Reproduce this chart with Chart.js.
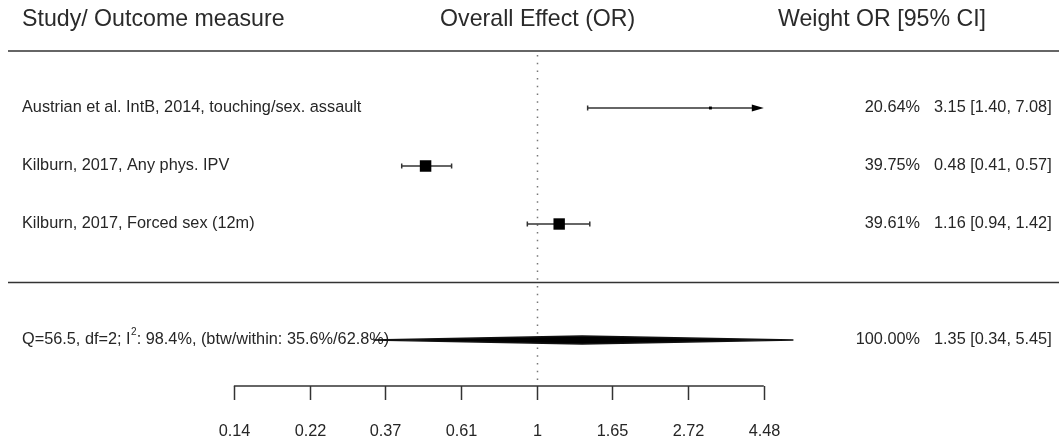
<!DOCTYPE html>
<html>
<head>
<meta charset="utf-8">
<script src="https://cdn.jsdelivr.net/npm/chart.js@4.4.0/dist/chart.umd.min.js"></script>
<style>
  html, body { margin: 0; padding: 0; background: #fff; }
  #wrap { width: 1059px; height: 445px; }
</style>
</head>
<body>
<div id="wrap"><canvas id="forest" width="1059" height="445"></canvas></div>
<script>
// study rows
const studyLabels = [
  'Austrian et al. IntB, 2014, touching/sex. assault',
  'Kilburn, 2017, Any phys. IPV',
  'Kilburn, 2017, Forced sex (12m)'
];
const estimates = [3.15, 0.48, 1.16];
const ciLower = [1.40, 0.41, 0.94];
const ciUpper = [7.08, 0.57, 1.42];
const weights = ['20.64%', '39.75%', '39.61%'];

// pooled row
const pooledLabel = ['Q=56.5, df=2; I', '2', ': 98.4%, (btw/within: 35.6%/62.8%)'];
const pooledEstimate = 1.35;
const pooledLower = 0.34;
const pooledUpper = 5.45;
const pooledWeight = '100.00%';

// axis
const tickValues = [0.1353, 0.2231, 0.3679, 0.6065, 1, 1.6487, 2.7183, 4.4817];
const tickLabels = ['0.14', '0.22', '0.37', '0.61', '1', '1.65', '2.72', '4.48'];
const headers = ['Study/ Outcome measure', 'Overall Effect (OR)', 'Weight OR [95% CI]'];

const FONT = '"Liberation Sans", Arial, sans-serif';
const axisMin = tickValues[0];
const axisMax = tickValues[tickValues.length - 1];
const pooledRow = studyLabels.length + 2;
const fmt = (v) => v.toFixed(2);

function txt(ctx, s, x, y, size, align, sx, color) {
  ctx.save();
  ctx.font = size + 'px ' + FONT;
  ctx.fillStyle = color || '#262626';
  ctx.textAlign = align;
  ctx.textBaseline = 'middle';
  ctx.translate(x, y);
  ctx.scale(sx || 1, 1);
  ctx.fillText(s, 0, 0);
  ctx.restore();
}

// marker size from precision (1/SE), capped
function markerSide(i) {
  const se = (Math.log(ciUpper[i]) - Math.log(ciLower[i])) / (2 * 1.96);
  return Math.min(11.5, 1.2 / se);
}

const ciSets = studyLabels.map((s, i) => ({
  data: [
    { x: Math.max(ciLower[i], axisMin), y: i + 1 },
    { x: Math.min(ciUpper[i], axisMax) - (ciUpper[i] > axisMax ? 0.2 : 0), y: i + 1 }
  ],
  showLine: true,
  borderColor: '#333',
  borderWidth: 1.5,
  pointRadius: 0
}));

const squares = {
  data: estimates.map((v, i) => ({ x: v, y: i + 1 })),
  pointStyle: 'rect',
  pointRadius: estimates.map((v, i) => markerSide(i) / Math.SQRT2),
  backgroundColor: '#000',
  borderColor: '#000',
  borderWidth: 0,
  showLine: false
};

const forestDeco = {
  id: 'forestDeco',
  beforeDatasetsDraw(chart) {
    const { ctx } = chart;
    const xs = chart.scales.x, ys = chart.scales.y;
    const axisY = ys.getPixelForValue(pooledRow) + 46;
    // reference line at OR = 1
    const x1 = Math.round(xs.getPixelForValue(1)) + 0.5;
    ctx.save();
    ctx.strokeStyle = '#777';
    ctx.lineWidth = 1.5;
    ctx.setLineDash([1.5, 6.2]);
    ctx.beginPath();
    ctx.moveTo(x1, ys.getPixelForValue(0) + 5);
    ctx.lineTo(x1, axisY);
    ctx.stroke();
    ctx.restore();
  },
  afterDatasetsDraw(chart) {
    const { ctx } = chart;
    const xs = chart.scales.x, ys = chart.scales.y;
    const W = chart.width;

    // header
    const hy = ys.getPixelForValue(0) - 31;
    txt(ctx, headers[0], 22, hy, 24, 'left', 0.965, '#2a2a2a');
    txt(ctx, headers[1], xs.getPixelForValue(1) + 1, hy, 24, 'center', 0.965, '#2a2a2a');
    txt(ctx, headers[2], 882, hy, 24, 'center', 0.965, '#2a2a2a');

    // separators
    ctx.save();
    ctx.strokeStyle = '#666';
    ctx.lineWidth = 2;
    ctx.beginPath();
    ctx.moveTo(8, ys.getPixelForValue(0) + 1);
    ctx.lineTo(W, ys.getPixelForValue(0) + 1);
    ctx.stroke();
    ctx.strokeStyle = '#333';
    ctx.lineWidth = 1.5;
    ctx.beginPath();
    ctx.moveTo(8, ys.getPixelForValue(studyLabels.length + 1) + 0.5);
    ctx.lineTo(W, ys.getPixelForValue(studyLabels.length + 1) + 0.5);
    ctx.stroke();
    ctx.restore();

    // study rows: labels, caps, arrows, annotations
    studyLabels.forEach((s, i) => {
      const y = ys.getPixelForValue(i + 1);
      txt(ctx, s, 22, y, 16.3, 'left');
      txt(ctx, weights[i], 920, y, 16.3, 'right');
      txt(ctx, fmt(estimates[i]) + ' [' + fmt(ciLower[i]) + ', ' + fmt(ciUpper[i]) + ']', 934, y, 16.3, 'left');

      ctx.save();
      ctx.strokeStyle = '#333';
      ctx.fillStyle = '#000';
      ctx.lineWidth = 1.5;
      const ends = [ciLower[i], ciUpper[i]];
      ends.forEach((v) => {
        if (v >= axisMin && v <= axisMax) {
          const px = xs.getPixelForValue(v);
          ctx.beginPath();
          ctx.moveTo(px, y - 2.5);
          ctx.lineTo(px, y + 2.5);
          ctx.stroke();
        }
      });
      if (ciUpper[i] > axisMax) {
        const px = xs.getPixelForValue(axisMax);
        ctx.beginPath();
        ctx.moveTo(px, y);
        ctx.lineTo(px - 12, y - 3.5);
        ctx.lineTo(px - 12, y + 3.5);
        ctx.closePath();
        ctx.fill();
      }
      ctx.restore();
    });

    // pooled row
    const py = ys.getPixelForValue(pooledRow);
    ctx.save();
    ctx.font = '16.3px ' + FONT;
    const w0 = ctx.measureText(pooledLabel[0]).width;
    ctx.font = '10px ' + FONT;
    const w1 = ctx.measureText(pooledLabel[1]).width;
    ctx.restore();
    txt(ctx, pooledLabel[0], 22, py, 16.3, 'left');
    txt(ctx, pooledLabel[1], 22 + w0 + 0.5, py - 8, 10, 'left');
    txt(ctx, pooledLabel[2], 22 + w0 + w1 + 0.5, py, 16.3, 'left');
    txt(ctx, pooledWeight, 920, py, 16.3, 'right');
    txt(ctx, fmt(pooledEstimate) + ' [' + fmt(pooledLower) + ', ' + fmt(pooledUpper) + ']', 934, py, 16.3, 'left');

    const dl = xs.getPixelForValue(pooledLower);
    const dm = xs.getPixelForValue(pooledEstimate);
    const dr = xs.getPixelForValue(pooledUpper);
    ctx.save();
    ctx.fillStyle = '#000';
    ctx.strokeStyle = '#111';
    ctx.lineWidth = 1.3;
    ctx.beginPath();
    ctx.moveTo(dl, py);
    ctx.lineTo(dm, py - 4);
    ctx.lineTo(dr, py);
    ctx.lineTo(dm, py + 4);
    ctx.closePath();
    ctx.fill();
    ctx.stroke();
    ctx.restore();

    // x axis
    const axisY = py + 46;
    ctx.save();
    ctx.strokeStyle = '#333';
    ctx.lineWidth = 1.5;
    ctx.beginPath();
    ctx.moveTo(xs.getPixelForValue(axisMin), axisY);
    ctx.lineTo(xs.getPixelForValue(axisMax), axisY);
    ctx.stroke();
    tickValues.forEach((v, k) => {
      const px = Math.round(xs.getPixelForValue(v)) + 0.5;
      ctx.beginPath();
      ctx.moveTo(px, axisY);
      ctx.lineTo(px, axisY + 14);
      ctx.stroke();
      txt(ctx, tickLabels[k], px, axisY + 46, 16.3, 'center');
    });
    ctx.restore();
  }
};

new Chart(document.getElementById('forest'), {
  type: 'scatter',
  data: { datasets: [squares, ...ciSets] },
  options: {
    responsive: false,
    animation: false,
    events: [],
    layout: { padding: 0, autoPadding: false },
    plugins: { legend: { display: false }, tooltip: { enabled: false } },
    scales: {
      x: {
        type: 'logarithmic',
        display: false,
        bounds: 'data',
        min: Math.exp(-536.7 / 151.4),
        max: Math.exp((1059 - 536.7) / 151.4)
      },
      y: {
        type: 'linear',
        display: false,
        reverse: true,
        bounds: 'data',
        min: -50 / 58,
        max: 395 / 58
      }
    }
  },
  plugins: [forestDeco]
});
</script>
</body>
</html>
